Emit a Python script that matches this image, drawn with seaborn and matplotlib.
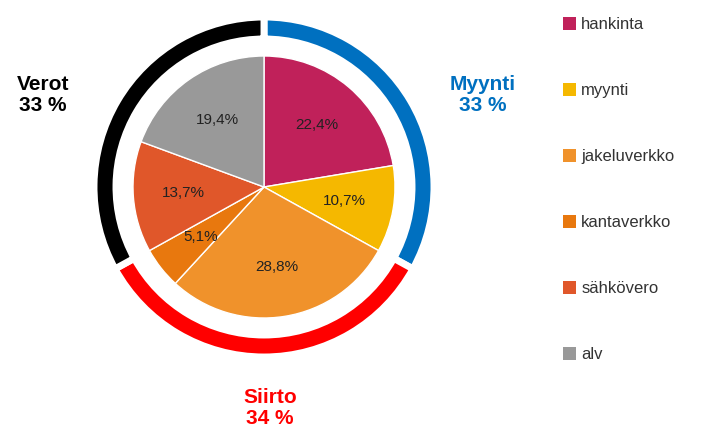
import seaborn as sns
import matplotlib.pyplot as plt
from matplotlib.patches import Patch

sns.set_theme(style="white")
plt.rcParams['font.family'] = ['Liberation Sans', 'DejaVu Sans']

# inner pie: price components
parts = ["hankinta", "myynti", "jakeluverkko", "kantaverkko", "sähkövero", "alv"]
part_values = [22.4, 10.7, 28.8, 5.1, 13.7, 19.4]
part_labels = ["22,4%", "10,7%", "28,8%", "5,1%", "13,7%", "19,4%"]
part_colors = ["#C0215A", "#F5B800", "#F0922B", "#E8780E", "#E0572A", "#999999"]

# outer ring: main groups
groups = ["Myynti", "Siirto", "Verot"]
group_values = [33, 34, 33]
group_labels = ["Myynti\n33 %", "Siirto\n34 %", "Verot\n33 %"]
group_colors = ["#0070C0", "#FF0000", "#000000"]

fig = plt.figure(figsize=(7.08, 4.41), dpi=100)
ax = fig.add_axes([(264 - 180) / 708, (254 - 180) / 441, 360 / 708, 360 / 441])

ax.pie(group_values, radius=170, startangle=90, counterclock=False,
       colors=group_colors, wedgeprops=dict(width=22, edgecolor="white", linewidth=5))

wedges, texts = ax.pie(part_values, radius=131, startangle=90, counterclock=False,
                       colors=part_colors, labels=part_labels, labeldistance=0.62,
                       wedgeprops=dict(edgecolor="white", linewidth=1),
                       textprops=dict(fontsize=11, color="#222222"))
for t in texts:
    t.set_ha("center")
    t.set_va("center")

ax.set_xlim(-180, 180)
ax.set_ylim(-180, 180)
ax.set_aspect("equal")
ax.axis("off")

# group labels
pos = [(483, 95), (270, 408), (43, 95)]
for (x, y), lab, c in zip(pos, group_labels, group_colors):
    fig.text(x / 708, 1 - y / 441, lab, ha="center", va="center", color=c,
             fontsize=15, fontweight="bold", linespacing=1.1)

handles = [Patch(facecolor=c, edgecolor="none") for c in part_colors]
fig.legend(handles, parts, loc="upper left", bbox_to_anchor=(548 / 708, 1 - 2 / 441),
           frameon=False, fontsize=12, handlelength=0.8, handleheight=0.8,
           handletextpad=0.3, labelspacing=3.05, labelcolor="#333333")

fig.savefig("out.png", dpi=100)
